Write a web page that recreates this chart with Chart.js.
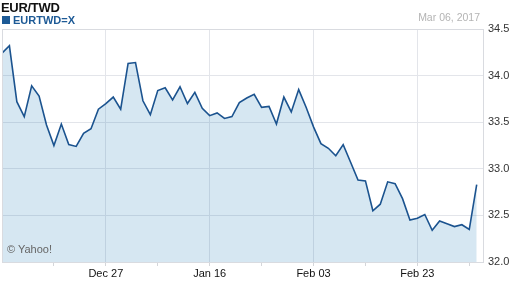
<!DOCTYPE html>
<html>
<head>
<meta charset="utf-8">
<script src="https://cdn.jsdelivr.net/npm/chart.js@4/dist/chart.umd.min.js"></script>
<style>
  html, body { margin: 0; padding: 0; background: #fff; }
  #wrap { position: relative; width: 512px; height: 288px; font-family: "Liberation Sans", Arial, sans-serif; }
  #title { position: absolute; left: 1px; top: 0px; font-size: 13px; font-weight: bold; color: #111; letter-spacing: -0.3px; }
  #legend { position: absolute; left: 2px; top: 14px; font-size: 11px; font-weight: bold; color: #1d5a96; }
  #legend span.sw { display: inline-block; width: 8px; height: 8px; background: #1d5a96; margin-right: 3px; vertical-align: -0px; }
  #date { position: absolute; right: 32px; top: 11px; font-size: 10.5px; color: #b4b4b4; }
  #credit { position: absolute; left: 7px; top: 243px; font-size: 11px; color: #666; }
</style>
</head>
<body>
<div id="wrap">
  <canvas id="chart" width="512" height="288"></canvas>
  <div id="title">EUR/TWD</div>
  <div id="legend"><span class="sw"></span>EURTWD=X</div>
  <div id="date">Mar 06, 2017</div>
  <div id="credit">© Yahoo!</div>
</div>
<script>
// trading days shown on the chart
const dates = [
  'Dec 06','Dec 07','Dec 08','Dec 09','Dec 12','Dec 13','Dec 14','Dec 15','Dec 16','Dec 19',
  'Dec 20','Dec 21','Dec 22','Dec 23','Dec 27','Dec 28','Dec 29','Dec 30','Jan 02','Jan 03',
  'Jan 04','Jan 05','Jan 06','Jan 09','Jan 10','Jan 11','Jan 12','Jan 13','Jan 16','Jan 17',
  'Jan 18','Jan 19','Jan 20','Jan 23','Jan 24','Jan 25','Jan 26','Jan 27','Jan 30','Jan 31',
  'Feb 01','Feb 02','Feb 03','Feb 06','Feb 07','Feb 08','Feb 09','Feb 10','Feb 13','Feb 14',
  'Feb 15','Feb 16','Feb 17','Feb 20','Feb 21','Feb 22','Feb 23','Feb 24','Feb 27','Feb 28',
  'Mar 01','Mar 02','Mar 03','Mar 05','Mar 06'
];

// EUR/TWD close
const rates = [
  34.24, 34.32, 33.72, 33.56, 33.89, 33.78, 33.47, 33.25, 33.48, 33.26,
  33.24, 33.38, 33.43, 33.64, 33.70, 33.77, 33.64, 34.13, 34.14, 33.73,
  33.58, 33.84, 33.87, 33.74, 33.88, 33.70, 33.82, 33.65, 33.57, 33.60,
  33.54, 33.56, 33.71, 33.76, 33.80, 33.66, 33.67, 33.48, 33.77, 33.61,
  33.85, 33.66, 33.45, 33.27, 33.22, 33.14, 33.26, 33.07, 32.88, 32.87,
  32.55, 32.62, 32.86, 32.84, 32.68, 32.45, 32.47, 32.51, 32.34, 32.44,
  32.41, 32.38, 32.40, 32.35, 32.83
];

// label every 14th day, small tick every 7th
const labelEvery = 14;
const tickEvery = 7;
const yTicks = [32.0, 32.5, 33.0, 33.5, 34.0, 34.5];

const gridColor = '#e3e5ea';

// outline the plot area on top and left (axes only give bottom/right)
const frame = {
  id: 'frame',
  afterDatasetsDraw(chart) {
    const { ctx, chartArea: a } = chart;
    ctx.save();
    ctx.strokeStyle = '#d9dbe0';
    ctx.lineWidth = 1;
    ctx.beginPath();
    ctx.moveTo(a.left + 0.5, a.bottom);
    ctx.lineTo(a.left + 0.5, a.top + 0.5);
    ctx.lineTo(a.right, a.top + 0.5);
    ctx.stroke();
    ctx.restore();
  }
};

new Chart(document.getElementById('chart'), {
  type: 'line',
  data: {
    datasets: [{
      data: rates.map((v, i) => ({ x: i, y: v })),
      borderColor: '#1b538f',
      borderWidth: 1.6,
      backgroundColor: 'rgba(30, 120, 185, 0.18)',
      fill: 'start',
      pointRadius: 0,
      tension: 0
    }]
  },
  options: {
    responsive: false,
    animation: false,
    layout: { padding: { top: 29, left: 2, right: 0, bottom: 0 } },
    plugins: { legend: { display: false }, tooltip: { enabled: false } },
    scales: {
      x: {
        type: 'linear',
        min: 0,
        max: rates.length - 0.15,
        afterBuildTicks(scale) {
          const t = [];
          for (let i = tickEvery; i < rates.length; i += tickEvery) t.push({ value: i });
          scale.ticks = t;
        },
        afterFit(scale) { scale.height = 26; },
        ticks: {
          autoSkip: false,
          maxRotation: 0,
          padding: 1,
          color: '#111',
          font: { family: '"Liberation Sans", Arial, sans-serif', size: 11 },
          callback: v => (v % labelEvery === 0 ? dates[v] : '')
        },
        grid: {
          color: c => (c.tick && c.tick.value % labelEvery === 0 ? gridColor : 'rgba(0,0,0,0)'),
          tickColor: '#d4d6da',
          tickLength: 4
        },
        border: { display: true, color: '#d9dbe0' }
      },
      y: {
        position: 'right',
        min: 32,
        max: 34.5,
        afterBuildTicks(scale) { scale.ticks = yTicks.map(v => ({ value: v })); },
        afterFit(scale) { scale.width = 29; },
        ticks: {
          padding: 5,
          color: '#333',
          font: { family: '"Liberation Sans", Arial, sans-serif', size: 11 },
          callback: v => v.toFixed(1)
        },
        grid: { color: gridColor, drawTicks: false },
        border: { display: true, color: '#d9dbe0' }
      }
    }
  },
  plugins: [frame]
});
</script>
</body>
</html>
